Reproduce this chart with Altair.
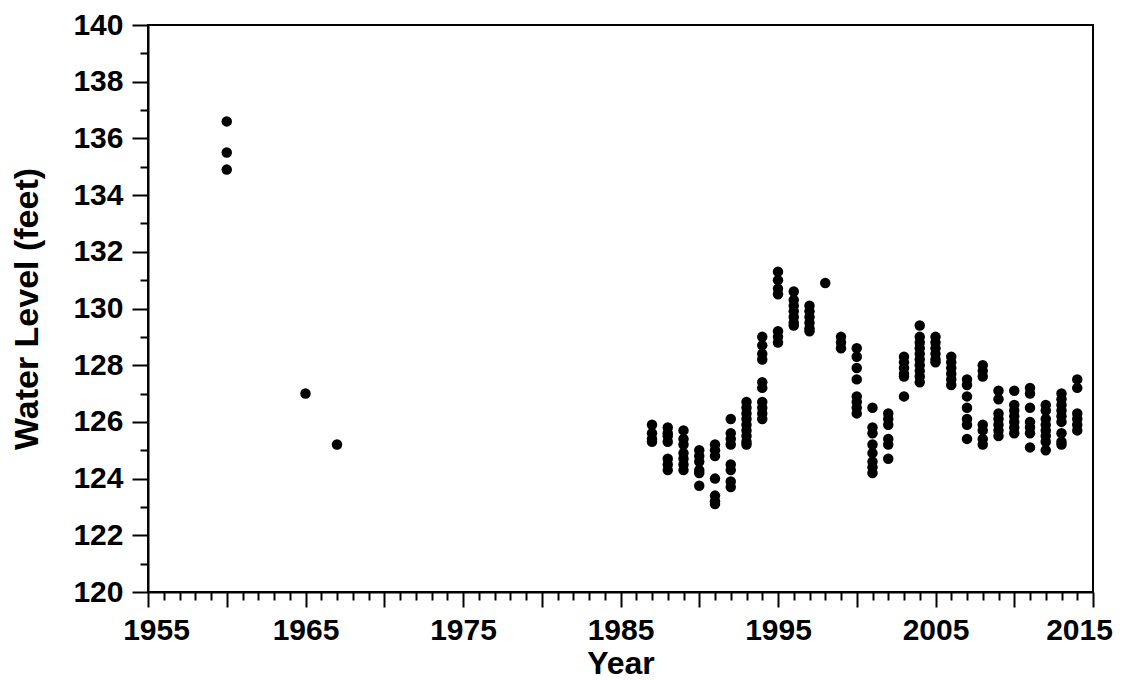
import altair as alt
import pandas as pd

# Observed water levels (feet), one entry per measurement
obs_year = (
    [1960] * 3 + [1965] + [1967]
    + [1987] * 4 + [1988] * 7 + [1989] * 7 + [1990] * 6 + [1991] * 7
    + [1992] * 8 + [1993] * 9 + [1994] * 10 + [1995] * 7 + [1996] * 7
    + [1997] * 6 + [1998] + [1999] * 3 + [2000] * 8 + [2001] * 8
    + [2002] * 6 + [2003] * 6 + [2004] * 10 + [2005] * 6 + [2006] * 6
    + [2007] * 7 + [2008] * 7 + [2009] * 7 + [2010] * 7 + [2011] * 7
    + [2012] * 8 + [2013] * 9 + [2014] * 6
)
obs_level = [
    136.6, 135.5, 134.9,
    127.0,
    125.2,
    125.9, 125.6, 125.4, 125.3,
    125.8, 125.6, 125.5, 125.3, 124.7, 124.5, 124.3,
    125.7, 125.4, 125.2, 124.9, 124.7, 124.5, 124.3,
    125.0, 124.8, 124.6, 124.3, 124.2, 123.75,
    125.2, 125.0, 124.8, 124.0, 123.4, 123.2, 123.1,
    126.1, 125.6, 125.4, 125.2, 124.5, 124.3, 123.9, 123.7,
    126.7, 126.5, 126.3, 126.1, 125.9, 125.7, 125.5, 125.3, 125.2,
    129.0, 128.7, 128.4, 128.2, 127.4, 127.2, 126.7, 126.5, 126.3, 126.1,
    131.3, 131.0, 130.7, 130.5, 129.2, 129.0, 128.8,
    130.6, 130.3, 130.1, 129.9, 129.7, 129.5, 129.4,
    130.1, 129.9, 129.7, 129.5, 129.3, 129.2,
    130.9,
    129.0, 128.8, 128.6,
    128.6, 128.3, 127.9, 127.5, 126.9, 126.7, 126.5, 126.3,
    126.5, 125.8, 125.6, 125.2, 124.9, 124.6, 124.4, 124.2,
    126.3, 126.1, 125.9, 125.4, 125.2, 124.7,
    128.3, 128.1, 127.9, 127.7, 127.6, 126.9,
    129.4, 129.0, 128.8, 128.6, 128.4, 128.2, 128.0, 127.8, 127.6, 127.4,
    129.0, 128.8, 128.6, 128.4, 128.2, 128.1,
    128.3, 128.1, 127.9, 127.7, 127.5, 127.3,
    127.5, 127.3, 126.9, 126.5, 126.1, 125.9, 125.4,
    128.0, 127.8, 127.6, 125.9, 125.7, 125.4, 125.2,
    127.1, 126.8, 126.3, 126.1, 125.9, 125.7, 125.5,
    127.1, 126.6, 126.4, 126.2, 126.0, 125.8, 125.6,
    127.2, 127.0, 126.5, 126.0, 125.8, 125.6, 125.1,
    126.6, 126.4, 126.1, 125.9, 125.7, 125.5, 125.3, 125.0,
    127.0, 126.8, 126.6, 126.4, 126.2, 126.0, 125.6, 125.3, 125.2,
    127.5, 127.2, 126.3, 126.1, 125.9, 125.7,
]

# Axis tick positions: yearly ticks on x, one-foot ticks on y
x_ticks = list(range(1955, 2016))
y_ticks = list(range(120, 141))

df = pd.DataFrame({"Year": obs_year, "Level": obs_level})

FONT = "Liberation Sans"

x_axis = alt.Axis(
    title="Year",
    values=x_ticks,
    format="d",
    labelExpr="datum.value % 10 == 5 ? datum.label : ''",
    tickSize={"condition": {"test": "datum.value % 5 == 0", "value": 15}, "value": 8},
    labelOffset={
        "condition": [
            {"test": "datum.value == 1955", "value": 8},
            {"test": "datum.value == 2015", "value": -14},
        ],
        "value": 0,
    },
    labelOverlap=False,
    labelBound=False,
    labelFlush=False,
    labelPadding=8,
    titlePadding=3,
    titleFontSize=32,
    grid=False,
)

y_axis = alt.Axis(
    title="Water Level (feet)",
    values=y_ticks,
    format="d",
    labelExpr="datum.value % 2 == 0 ? datum.label : ''",
    tickSize={"condition": {"test": "datum.value % 2 == 0", "value": 16}, "value": 8},
    labelOverlap=False,
    labelBound=False,
    labelFlush=False,
    labelPadding=9,
    titlePadding=28,
    grid=False,
)

chart = (
    alt.Chart(df)
    .mark_circle(size=110, color="black", opacity=1)
    .encode(
        x=alt.X("Year:Q", scale=alt.Scale(domain=[1955, 2015], nice=False, zero=False), axis=x_axis),
        y=alt.Y("Level:Q", scale=alt.Scale(domain=[120, 140], nice=False, zero=False), axis=y_axis),
    )
    .properties(
        width=945,
        height=567,
        autosize=alt.AutoSizeParams(type="none"),
        padding={"left": 148, "top": 25, "right": 35, "bottom": 88},
        background="white",
    )
    .configure_view(stroke="black", strokeWidth=2)
    .configure_axis(
        domainColor="black",
        domainWidth=2,
        tickColor="black",
        tickWidth=2,
        labelFont=FONT,
        labelFontSize=30,
        labelFontWeight="bold",
        labelColor="black",
        titleFont=FONT,
        titleFontSize=34,
        titleFontWeight="bold",
        titleColor="black",
    )
)

chart.save("out.html", embed_options={"renderer": "svg", "actions": False})
